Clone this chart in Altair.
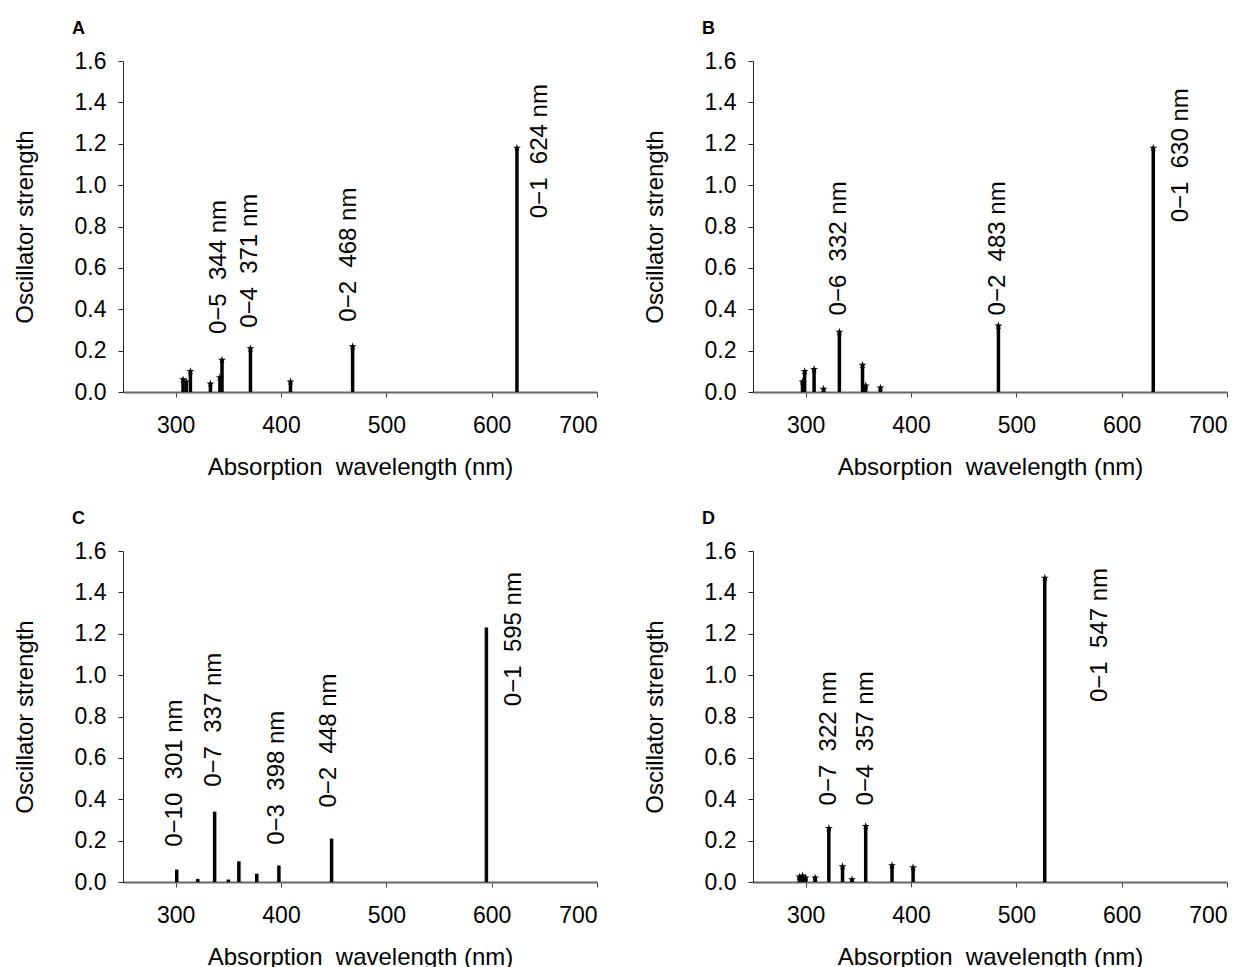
import altair as alt
import pandas as pd

# ---------------- data ----------------
NB = "\u00a0"
A_wl = [307, 310, 314, 333, 342, 344, 371, 409, 468, 624]
A_f = [0.06, 0.05, 0.10, 0.04, 0.07, 0.155, 0.21, 0.05, 0.22, 1.18]
A_lab = ["0−5  344 nm", "0−4  371 nm", "0−2  468 nm", "0−1  624 nm"]
A_lab_x = [341, 371, 465, 646]
A_lab_y = [0.28, 0.31, 0.34, 0.84]

B_wl = [297, 299, 308, 317, 332, 354, 357, 371, 483, 630]
B_f = [0.05, 0.10, 0.11, 0.015, 0.29, 0.13, 0.03, 0.02, 0.32, 1.18]
B_lab = ["0−6  332 nm", "0−2  483 nm", "0−1  630 nm"]
B_lab_x = [332, 483, 656]
B_lab_y = [0.37, 0.37, 0.82]

C_wl = [301, 321, 337, 350, 360, 377, 398, 448, 595]
C_f = [0.06, 0.015, 0.34, 0.012, 0.10, 0.04, 0.08, 0.21, 1.23]
C_lab = ["0−10  301 nm", "0−7  337 nm", "0−3  398 nm", "0−2  448 nm", "0−1  595 nm"]
C_lab_x = [299, 336, 396, 446, 621]
C_lab_y = [0.17, 0.46, 0.18, 0.36, 0.85]

D_wl = [294, 297, 300, 309, 322, 335, 344, 357, 382, 402, 527]
D_f = [0.025, 0.03, 0.02, 0.02, 0.26, 0.075, 0.012, 0.27, 0.08, 0.07, 1.47]
D_lab = ["0−7  322 nm", "0−4  357 nm", "0−1  547 nm"]
D_lab_x = [322, 357, 579]
D_lab_y = [0.37, 0.37, 0.87]

x_ticks = [300, 400, 500, 600, 700]
y_ticks = [0.0, 0.2, 0.4, 0.6, 0.8, 1.0, 1.2, 1.4, 1.6]

FONT = "Liberation Sans"
STAR = "M0,-1L0.22,-0.3L0.95,-0.3L0.36,0.12L0.59,0.81L0,0.38L-0.59,0.81L-0.36,0.12L-0.95,-0.3L-0.22,-0.3Z"

W, H = 474, 331


def keep_spaces(s):
    return s.replace("  ", " " + NB)


def panel(letter, wl, f, labs, lx, ly, stars=True):
    bars = pd.DataFrame({"wl": wl, "f": f})
    labels = pd.DataFrame({"t": [keep_spaces(s) for s in labs], "x": lx, "y": ly})
    xs = alt.Scale(domain=[250, 700], nice=False)
    ys = alt.Scale(domain=[0, 1.6], nice=False)
    xax = alt.Axis(values=x_ticks, title=keep_spaces("Absorption  wavelength (nm)"),
                   domainWidth=2, domainColor="#666", tickColor="#444", tickSize=5,
                   labelPadding=17, titlePadding=18, grid=False)
    yax = alt.Axis(values=y_ticks, format=".1f", title="Oscillator strength",
                   domainColor="#222", tickColor="#222", tickSize=5, labelPadding=12,
                   titlePadding=37, grid=False)
    base = alt.Chart(bars)
    rules = base.mark_rule(color="black", strokeWidth=3.5).encode(
        x=alt.X("wl:Q", scale=xs, axis=xax),
        y=alt.Y("f:Q", scale=ys, axis=yax),
        y2=alt.datum(0),
    )
    layers = [rules]
    if stars:
        pts = base.mark_point(shape=STAR, filled=True, color="black", size=70, opacity=1).encode(
            x="wl:Q", y="f:Q")
        layers.append(pts)
    txt = alt.Chart(labels).mark_text(angle=270, align="left", baseline="middle",
                                      fontSize=24, font=FONT, color="black").encode(
        x="x:Q", y="y:Q", text="t:N")
    layers.append(txt)
    return alt.layer(*layers).properties(
        width=W, height=H,
        title=alt.TitleParams(text=letter, anchor="start", frame="group", dx=-51,
                              fontSize=18, fontWeight="bold", font=FONT, offset=12,
                              color="black"),
    )


pA = panel("A", A_wl, A_f, A_lab, A_lab_x, A_lab_y)
pB = panel("B", B_wl, B_f, B_lab, B_lab_x, B_lab_y)
pC = panel("C", C_wl, C_f, C_lab, C_lab_x, C_lab_y, stars=False)
pD = panel("D", D_wl, D_f, D_lab, D_lab_x, D_lab_y)

chart = alt.vconcat(
    alt.hconcat(pA, pB, spacing=45),
    alt.hconcat(pC, pD, spacing=45),
    spacing=31,
).properties(
    padding={"left": 5, "top": 12, "right": 5, "bottom": 5},
).configure(background="white").configure_view(stroke=None).configure_axis(
    grid=False, labelFont=FONT, titleFont=FONT, labelFontSize=23, titleFontSize=24,
    titleFontWeight="normal", labelColor="black", titleColor="black",
)

chart.save("out.html", embed_options={"renderer": "svg", "actions": False})
